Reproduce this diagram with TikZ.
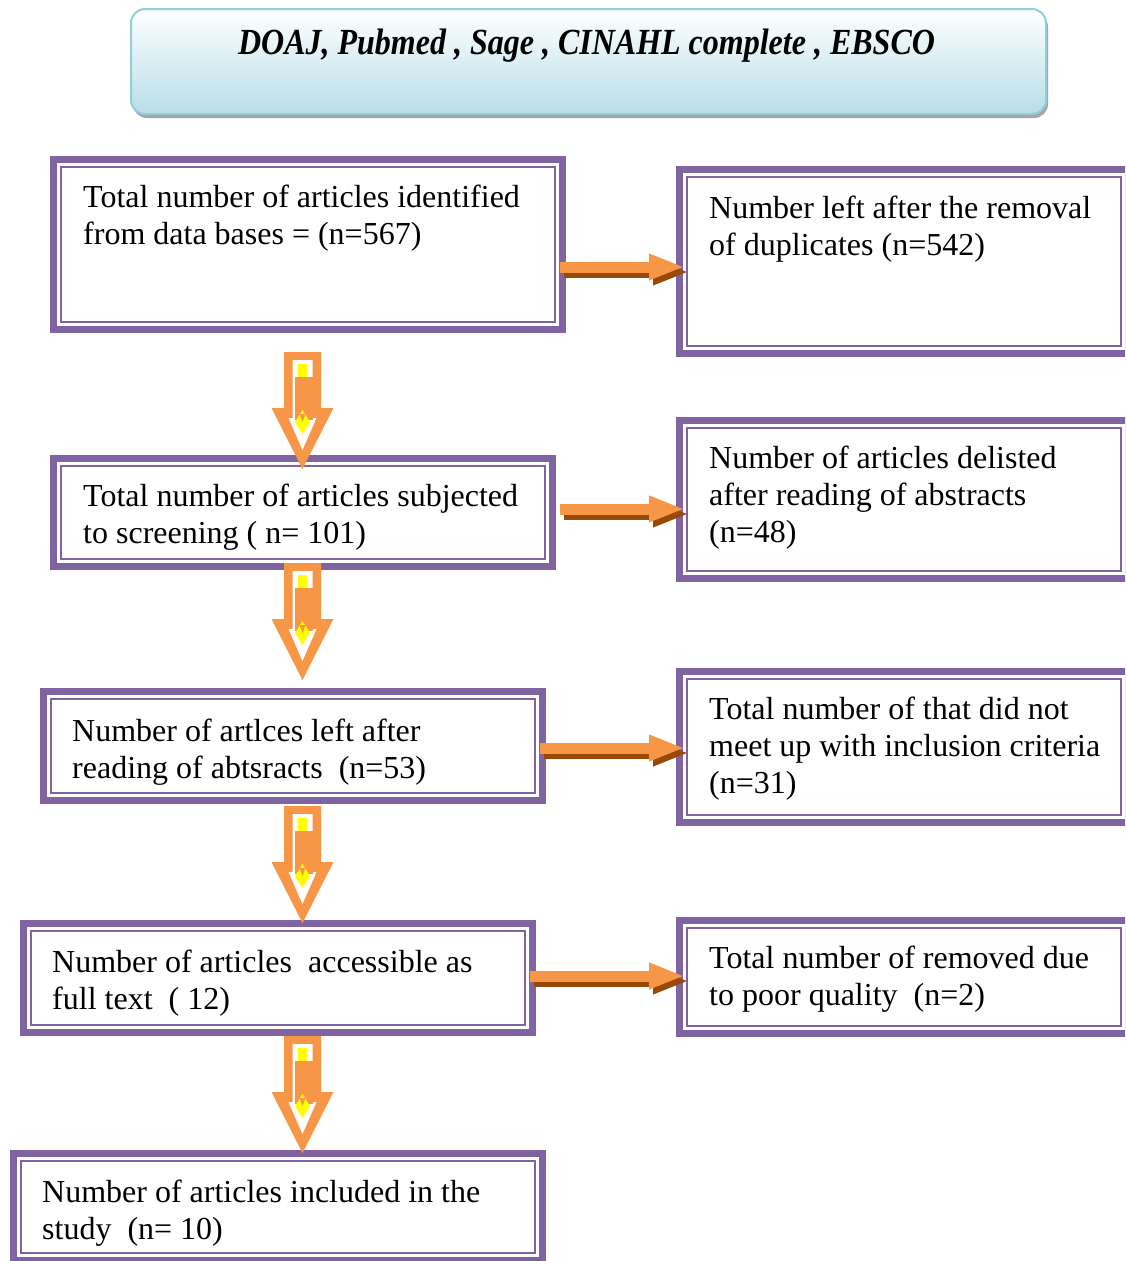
\documentclass[tikz,border=0pt]{standalone}
\usepackage{fontspec}
\setmainfont{Liberation Serif}
\usepackage{graphicx}
\usetikzlibrary{arrows.meta,shadows}
\definecolor{pur}{HTML}{8064A2}
\definecolor{ora}{HTML}{F79646}
\definecolor{orad}{HTML}{984807}
\definecolor{hdrb}{HTML}{B7DEE8}
\definecolor{hdrl}{HTML}{93CDDD}
\definecolor{yel}{HTML}{FFFF00}
\newcommand\mkpbox[5]{%
  \node[pbox, minimum width={#4-#2-7}, minimum height={#5-#3-7}] (#1) at ({(#2+#4)/2},{(#3+#5)/2}) {};
  \draw[pinner] ([shift={(7.5,7.5)}]#1.north west) rectangle ([shift={(-7.5,-7.5)}]#1.south east);}
\newcommand\dnarrow[1]{%
  \begin{scope}[shift={(#1)}]
    \fill[ora] (-18.5,0) -- (18.5,0) -- (18.5,56) -- (31,56) -- (0,117) -- (-31,56) -- (-18.5,56) -- cycle;
    \fill[white] (-10,8) -- (10,8) -- (10,66) -- (14,66) -- (0,98) -- (-14,66) -- (-10,66) -- cycle;
    \fill[yel] (-4.5,12) rectangle (4.5,25);
    \fill[ora] (-8,25) rectangle (10,68);
    \fill[yel] (0,58) -- (7.5,70) -- (0,82) -- (-7.5,70) -- cycle;
    \fill[ora] (-3,62) -- (3,62) -- (0,70) -- cycle;
  \end{scope}}
\begin{document}
\begin{tikzpicture}[x=1pt,y=-1pt,
  pbox/.style={draw=pur, line width=7pt, rectangle, inner sep=0pt, outer sep=0pt, fill=white},
  pinner/.style={draw=pur, line width=2pt},
  txt/.style={font=\fontsize{32}{37}\selectfont, inner sep=0pt, anchor=base west},
  rarrow/.style={draw=ora, line width=11pt, -{Triangle[length=36pt,width=24pt]}, shorten <=-3pt, shorten >=-5.5pt},
  rshadow/.style={rarrow, draw=orad, transform canvas={xshift=4pt,yshift=-5pt}},
  hdr/.style={draw=hdrl, line width=2pt, rounded corners=14pt, top color=white, bottom color=hdrb, inner sep=0pt, outer sep=0pt}]
\useasboundingbox (0,0) rectangle (1125,1261);
\clip (0,0) rectangle (1125,1261);
\fill[white] (0,0) rectangle (1125,1261);

% header
\node[hdr, minimum width=915pt, minimum height=105pt,
  drop shadow={shadow xshift=2pt, shadow yshift=-4pt, fill=black!35, opacity=1}] (hd) at (588.5,61.5) {};
\node[anchor=base, inner sep=0pt, font=\fontsize{32}{38}\selectfont\bfseries\itshape] (ht) at (586.5,54)
  {\scalebox{1}[1.15]{DOAJ, Pubmed , Sage , CINAHL complete , EBSCO}};

% boxes
\mkpbox{b1}{50}{156}{566}{333}
\mkpbox{b2}{50}{455}{556}{570}
\mkpbox{b3}{40}{688}{546}{804}
\mkpbox{b4}{20}{920}{536}{1036}
\mkpbox{b5}{10}{1150}{546}{1264}
\mkpbox{r1}{676}{166}{1132}{357}
\mkpbox{r2}{676}{417}{1132}{582}
\mkpbox{r3}{676}{668}{1132}{826}
\mkpbox{r4}{676}{917}{1132}{1037}

% texts
\node[txt] (t1) at (83,207) {\parbox[t]{480pt}{\raggedright Total number of articles identified\\from data bases = (n=567)}};
\node[txt] (u1) at (709,218) {\parbox[t]{420pt}{\raggedright Number left after the removal\\of duplicates (n=542)}};
\node[txt] (t2) at (83,506) {\parbox[t]{480pt}{\raggedright Total number of articles subjected\\to screening ( n= 101)}};
\node[txt] (u2) at (709,468) {\parbox[t]{420pt}{\raggedright Number of articles delisted\\after reading of abstracts\\(n=48)}};
\node[txt] (t3) at (72,741) {\parbox[t]{480pt}{\raggedright Number of artlces left after\\reading of abtsracts~~(n=53)}};
\node[txt] (u3) at (709,719) {\parbox[t]{420pt}{\raggedright Total number of that did not\\meet up with inclusion criteria\\(n=31)}};
\node[txt] (t4) at (52,972) {\parbox[t]{480pt}{\raggedright Number of articles~~accessible as\\full text~~( 12)}};
\node[txt] (u4) at (709,968) {\parbox[t]{420pt}{\raggedright Total number of removed due\\to poor quality~~(n=2)}};
\node[txt] (t5) at (42,1202) {\parbox[t]{480pt}{\raggedright Number of articles included in the\\study~~(n= 10)}};

% right arrows
\draw[rshadow] (b1.east |- 0,267) -- (r1.west |- 0,267);
\draw[rarrow] (b1.east |- 0,267) -- (r1.west |- 0,267);
\draw[rshadow, shorten <=7.5pt] (b2.east |- 0,509) -- (r2.west |- 0,509);
\draw[rarrow, shorten <=7.5pt] (b2.east |- 0,509) -- (r2.west |- 0,509);
\draw[rshadow] (b3.east |- 0,748) -- (r3.west |- 0,748);
\draw[rarrow] (b3.east |- 0,748) -- (r3.west |- 0,748);
\draw[rshadow] (b4.east |- 0,976) -- (r4.west |- 0,976);
\draw[rarrow] (b4.east |- 0,976) -- (r4.west |- 0,976);

% down arrows
\coordinate (d1) at (302.5,352);
\coordinate (d2) at (302.5,563);
\coordinate (d3) at (302.5,806);
\coordinate (d4) at (302.5,1036);
\dnarrow{d1}
\dnarrow{d2}
\dnarrow{d3}
\dnarrow{d4}
\end{tikzpicture}
\end{document}
